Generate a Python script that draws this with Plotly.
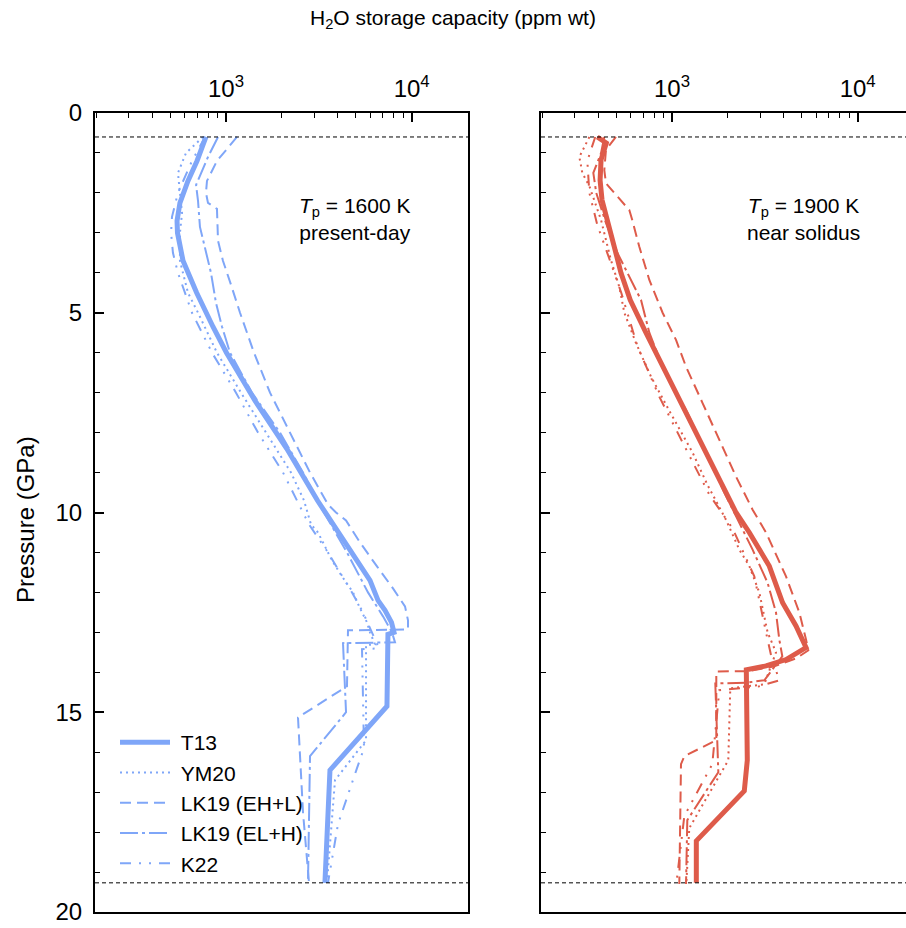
import plotly.graph_objects as go

# ---------------- data: left panel (Tp = 1600 K, present-day) ----------------
P_T13_L = [0.6, 1.2, 1.7, 2.25, 2.7, 3.0, 3.7, 4.5, 5.35, 6.0, 7.2, 8.4, 9.7, 10.7, 11.7, 12.2, 12.45, 12.75, 13.0, 13.05, 14.85, 16.45, 19.27]
V_T13_L = [780, 698, 624, 565, 545, 548, 587, 695, 851, 1006, 1433, 2123, 3110, 4267, 5963, 6585, 7180, 7785, 8030, 7450, 7360, 3630, 3410]

P_YM20_L = [0.6, 1.0, 1.5, 2.0, 2.5, 3.0, 3.7, 4.5, 5.0, 6.0, 7.0, 8.0, 9.0, 9.7, 10.3, 10.5, 11.2, 11.6, 12.0, 12.4, 12.75, 13.0, 13.3, 13.32, 15.7, 16.7, 19.27]
V_YM20_L = [752, 609, 551, 565, 580, 565, 565, 624, 707, 894, 1204, 1642, 2239, 2631, 2869, 3129, 3723, 4214, 4830, 5268, 5746, 5963, 6345, 5677, 5677, 3864, 3498]

P_EHL_L = [0.6, 1.2, 1.7, 2.0, 2.25, 2.4, 3.2, 3.7, 4.3, 5.0, 6.0, 7.0, 8.0, 9.0, 9.8, 10.0, 10.2, 10.75, 11.35, 11.9, 12.35, 12.7, 12.93, 12.95, 14.35, 15.13, 17.5, 19.27]
V_EHL_L = [1146, 894, 790, 780, 800, 894, 906, 963, 1064, 1190, 1415, 1726, 2211, 2834, 3542, 3913, 4430, 5268, 6504, 7931, 9204, 9553, 9553, 4539, 4483, 2442, 2598, 2799]

P_ELH_L = [0.6, 1.1, 1.8, 2.2, 2.85, 3.4, 4.0, 4.75, 5.35, 6.0, 7.0, 8.0, 9.0, 10.0, 11.0, 12.0, 12.6, 13.0, 13.25, 13.27, 15.0, 16.1, 19.27]
V_ELH_L = [906, 800, 690, 707, 724, 771, 830, 883, 952, 1051, 1380, 1953, 2598, 3371, 4483, 5817, 7006, 7834, 8131, 4267, 4430, 2834, 2764]

P_K22_L = [0.6, 1.2, 2.0, 2.6, 3.0, 3.5, 4.0, 5.0, 6.0, 7.0, 8.0, 9.0, 9.7, 10.3, 11.0, 11.5, 12.0, 12.5, 13.0, 13.4, 13.42, 15.9, 16.4, 17.8, 19.27]
V_K22_L = [771, 656, 551, 512, 506, 518, 551, 656, 841, 1132, 1487, 2028, 2412, 2799, 3542, 4111, 4770, 5467, 6113, 6668, 5400, 5535, 5076, 4010, 3542]

# ---------------- data: right panel (Tp = 1900 K, near solidus) ----------------
P_T13_R = [0.6, 0.75, 1.17, 1.68, 2.18, 2.68, 3.35, 4.0, 4.68, 5.5, 6.68, 7.51, 8.34, 9.18, 10.0, 10.5, 11.34, 12.26, 12.84, 13.38, 13.68, 13.84, 13.94, 16.2, 16.97, 18.22, 19.27]
V_T13_R = [396, 443, 415, 410, 420, 450, 489, 531, 596, 724, 967, 1190, 1461, 1798, 2211, 2608, 3342, 3941, 4654, 5268, 4111, 3208, 2513, 2544, 2451, 1352, 1352]

P_YM20_R = [0.6, 1.1, 1.5, 1.83, 2.68, 3.68, 4.35, 5.0, 5.76, 6.6, 7.5, 8.5, 9.3, 10.18, 10.93, 11.34, 12.0, 12.4, 13.0, 13.5, 14.3, 14.4, 16.2, 17.9, 19.3]
V_YM20_R = [359, 317, 329, 359, 415, 469, 520, 554, 640, 771, 979, 1291, 1549, 1953, 2304, 2608, 2952, 3075, 3272, 3631, 3141, 2060, 2010, 1239, 1194]

P_EHL_R = [0.6, 0.92, 1.43, 1.76, 2.0, 2.43, 2.68, 3.35, 4.18, 5.0, 5.68, 6.35, 7.26, 8.18, 9.1, 9.93, 10.5, 11.6, 12.5, 13.18, 13.45, 13.65, 13.85, 13.97, 13.98, 15.7, 16.1, 16.3, 19.3]
V_EHL_R = [499, 441, 432, 441, 489, 589, 611, 667, 755, 890, 1051, 1190, 1461, 1798, 2211, 2717, 3208, 4111, 4848, 5268, 5420, 4671, 3556, 2608, 1732, 1732, 1165, 1118, 1095]

P_ELH_R = [0.6, 1.0, 1.5, 2.0, 2.7, 3.5, 4.68, 5.5, 6.35, 7.5, 8.5, 9.5, 10.93, 11.76, 12.5, 13.18, 13.6, 14.2, 14.26, 14.28, 16.5, 17.7, 19.3]
V_ELH_R = [432, 415, 377, 391, 437, 508, 681, 755, 890, 1209, 1530, 1913, 2717, 3272, 3631, 3783, 3927, 3141, 2513, 1711, 1776, 1209, 1190]

P_K22_R = [0.6, 1.2, 2.0, 2.8, 3.5, 4.5, 5.85, 7.1, 8.33, 9.55, 10.4, 11.6, 13.0, 13.6, 14.2, 14.35, 14.45, 16.3, 17.6, 19.3]
V_K22_R = [386, 350, 359, 396, 448, 533, 653, 854, 1165, 1588, 2120, 2775, 3208, 3426, 3783, 2952, 1798, 1648, 1165, 1055]

LABELS = ["T13", "YM20", "LK19 (EH+L)", "LK19 (EL+H)", "K22"]
BOUNDARY_P = [0.6, 19.27]
X_TICKS = [1000, 10000]
X_TICKTEXT = ["10<sup>3</sup>", "10<sup>4</sup>"]
X_MINOR = [m * 10 ** e for e in (2, 3) for m in range(2, 10)] + [20000]

BLUE = "#7FA6F8"
RED = "#DE5B4A"
FONT = "Liberation Sans, Arial, sans-serif"

styles = [
    dict(width=5, dash="solid"),
    dict(width=2, dash="2px,4px"),
    dict(width=2, dash="11px,6px"),
    dict(width=2, dash="18px,4px,3px,4px"),
    dict(width=2, dash="11px,8px,2px,8px,2px,8px"),
]

left = [(P_T13_L, V_T13_L), (P_YM20_L, V_YM20_L), (P_EHL_L, V_EHL_L), (P_ELH_L, V_ELH_L), (P_K22_L, V_K22_L)]
right = [(P_T13_R, V_T13_R), (P_YM20_R, V_YM20_R), (P_EHL_R, V_EHL_R), (P_ELH_R, V_ELH_R), (P_K22_R, V_K22_R)]

fig = go.Figure()
for i, (p, v) in enumerate(left):
    fig.add_trace(go.Scatter(x=v, y=p, mode="lines", name="\u00a0" + LABELS[i], legendgroup=LABELS[i],
                             line=dict(color=BLUE, **styles[i]), xaxis="x", yaxis="y"))
for i, (p, v) in enumerate(right):
    fig.add_trace(go.Scatter(x=v, y=p, mode="lines", name=LABELS[i], showlegend=False,
                             line=dict(color=RED, **styles[i]), xaxis="x2", yaxis="y2"))

W, H = 906, 928
ydom = [1 - 912 / H, 1 - 113 / H]
xr = [2.2946, 4.3032]
xr2 = [2.2946, 4.2601]

def xax(domain, rng, anchor):
    return dict(domain=domain, type="log", range=rng, side="top", anchor=anchor,
                automargin=False,
                showline=True, linecolor="black", linewidth=2, mirror=True,
                ticks="inside", ticklen=9, tickwidth=1.5, tickcolor="black",
                tickvals=X_TICKS, ticktext=X_TICKTEXT, ticklabelstandoff=4,
                tickfont=dict(size=24, color="black", family=FONT),
                minor=dict(ticks="inside", ticklen=5, tickwidth=1.2, tickcolor="black", tickvals=X_MINOR),
                showgrid=False, zeroline=False)

def yax(anchor, labels, mirror):
    return dict(domain=ydom, range=[20, 0], anchor=anchor, showline=True, linecolor="black",
                automargin=False,
                linewidth=2, mirror=mirror, ticks="inside", ticklen=9, tickwidth=1.5,
                tickcolor="black", tick0=0, dtick=5, showticklabels=labels, ticklabelstandoff=6,
                tickfont=dict(size=24, color="black", family=FONT),
                minor=dict(ticks="inside", ticklen=5, tickwidth=1.2, tickcolor="black", dtick=1),
                showgrid=False, zeroline=False)

shapes = []
for ax in ("", "2"):
    for pb in BOUNDARY_P:
        shapes.append(dict(type="line", xref=f"x{ax} domain", x0=0, x1=1, yref=f"y{ax}", y0=pb, y1=pb,
                           line=dict(color="black", width=1, dash="4px,3px")))

annotations = [
    dict(text="H<sub>2</sub>O storage capacity (ppm wt)", xref="paper", yref="paper",
         x=453 / W, y=1 - 4 / H, showarrow=False, xanchor="center", yanchor="top",
         font=dict(size=21, color="black", family=FONT)),
    dict(text="Pressure (GPa)", xref="paper", yref="paper", x=25 / W, y=1 - 520 / H,
         textangle=-90, showarrow=False, xanchor="center", yanchor="middle",
         font=dict(size=24, color="black", family=FONT)),
    dict(text="<i>T</i><sub>p</sub> = 1600 K<br>present-day", xref="paper", yref="paper",
         x=355 / W, y=1 - 219 / H, showarrow=False, xanchor="center", yanchor="middle", align="center",
         font=dict(size=21, color="black", family=FONT)),
    dict(text="<i>T</i><sub>p</sub> = 1900 K<br>near solidus", xref="paper", yref="paper",
         x=803 / W, y=1 - 219 / H, showarrow=False, xanchor="center", yanchor="middle", align="center",
         font=dict(size=21, color="black", family=FONT)),
]

fig.update_layout(
    width=W, height=H, margin=dict(l=0, r=0, t=0, b=0),
    paper_bgcolor="white", plot_bgcolor="white",
    font=dict(family=FONT, color="black"),
    xaxis=xax([95 / W, 468 / W], xr, "y"),
    yaxis=yax("x", True, True),
    xaxis2=xax([541 / W, 1.0], xr2, "y2"),
    yaxis2=yax("x2", False, False),
    shapes=shapes, annotations=annotations,
    legend=dict(x=115 / W, y=1 - 722 / H, xanchor="left", yanchor="top",
                bgcolor="rgba(0,0,0,0)", font=dict(size=21, color="black", family=FONT),
                itemwidth=50, tracegroupgap=0),
    showlegend=True,
)

fig.write_html("out.html")
